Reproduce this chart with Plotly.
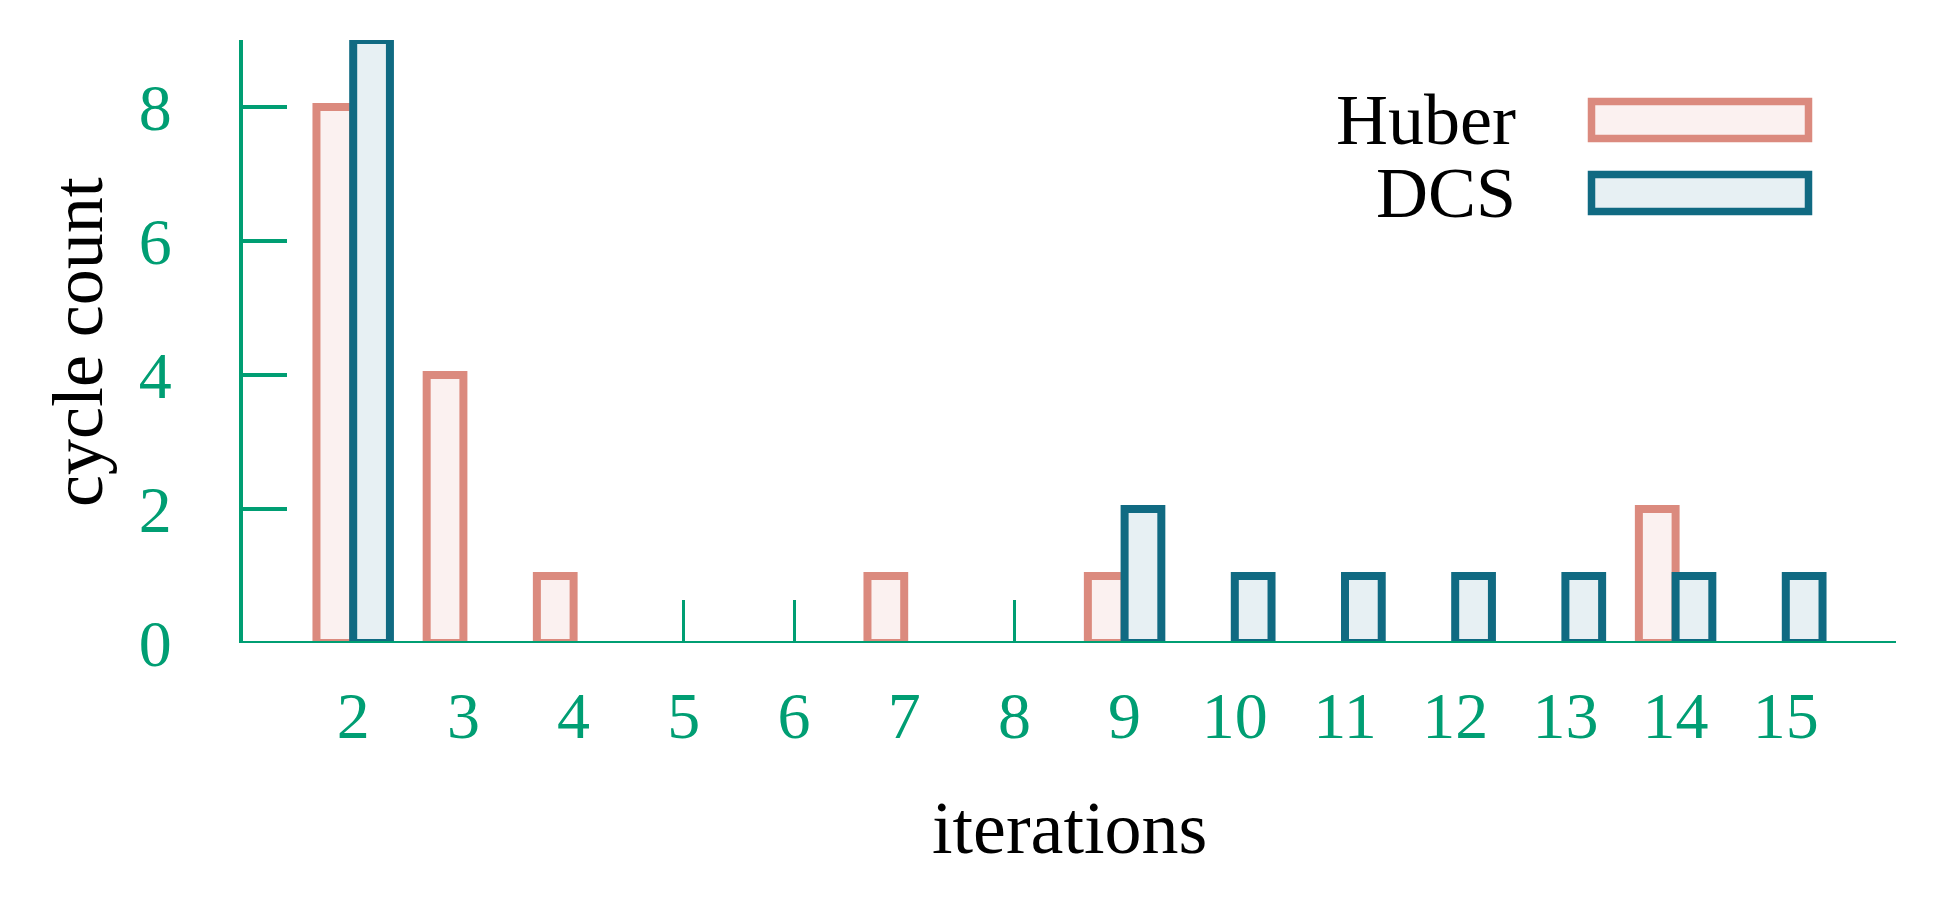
import plotly.graph_objects as go

# data
iterations = list(range(2, 16))
huber = [8, 4, 1, 0, 0, 1, 0, 1, 0, 0, 0, 0, 2, 0]
dcs = [9, 0, 0, 0, 0, 0, 0, 2, 1, 1, 1, 1, 1, 1]
y_ticks = [0, 2, 4, 6, 8]

series = [
    ("Huber", huber, "#DB8A7E", "#FBF1F0"),
    ("DCS", dcs, "#106A82", "#E7F0F3"),
]

GREEN = "#009E73"
FONT = "Liberation Serif"

# plot area in pixels (1942 x 901 page)
W, H = 1942, 901
L, R, T, B = 243, 1896, 40, 643


def px_x(px):
    return (px - L) / (R - L)


def px_y(py):
    return (B - py) / (B - T)


fig = go.Figure()

for name, vals, edge, fill in series:
    fig.add_trace(go.Bar(
        x=iterations,
        y=[v if v else None for v in vals],
        name=name,
        marker=dict(color=fill, line=dict(color=edge, width=8)),
        cliponaxis=False,
        showlegend=False,
    ))

# hand made legend: text on the left, swatch on the right
shapes = []
annotations = []
for i, (name, vals, edge, fill) in enumerate(series):
    top = 101.5 + i * 73
    shapes.append(dict(
        type="rect", xref="paper", yref="paper",
        x0=px_x(1591.5), x1=px_x(1808.5), y0=px_y(top), y1=px_y(top + 37),
        line=dict(color=edge, width=7.5), fillcolor=fill, layer="above",
    ))
    annotations.append(dict(
        text=name, xref="paper", yref="paper",
        x=px_x(1518), y=px_y(top + 18), xanchor="right", yanchor="middle",
        showarrow=False, font=dict(family=FONT, size=72, color="black"),
    ))

# bottom axis line drawn over the bar outlines
shapes.append(dict(
    type="line", xref="x domain", yref="y", x0=0, x1=1, y0=0, y1=0,
    line=dict(color=GREEN, width=4), layer="above",
))

# axis titles
annotations.append(dict(
    text="iterations", xref="paper", yref="paper",
    x=0.5, y=px_y(828), xanchor="center", yanchor="middle",
    showarrow=False, font=dict(family=FONT, size=74, color="black"),
))
annotations.append(dict(
    text="cycle count", xref="paper", yref="paper", textangle=-90,
    x=px_x(78), y=px_y(342), xanchor="center", yanchor="middle",
    showarrow=False, font=dict(family=FONT, size=72, color="black"),
))

fig.update_layout(
    width=W, height=H,
    margin=dict(l=L, r=W - R, t=T, b=H - B),
    paper_bgcolor="white", plot_bgcolor="white",
    barmode="group", bargap=1 / 3, bargroupgap=0,
    shapes=shapes, annotations=annotations,
)

fig.update_xaxes(
    range=[1, 16], tickvals=iterations,
    showline=False, showgrid=False, zeroline=False,
    ticks="inside", ticklen=43, tickwidth=3, tickcolor=GREEN,
    tickfont=dict(family=FONT, size=66, color=GREEN),
    ticklabelstandoff=28, layer="below traces",
)
fig.update_yaxes(
    range=[0, 9], tickvals=y_ticks,
    showline=True, linecolor=GREEN, linewidth=4,
    showgrid=False, zeroline=False,
    ticks="inside", ticklen=44, tickwidth=4, tickcolor=GREEN,
    tickfont=dict(family=FONT, size=66, color=GREEN),
    ticklabelstandoff=54, layer="below traces",
)

# page body has a default 8px margin, drop it so the figure sits at 0,0
fig.write_html(
    "out.html",
    config={"displayModeBar": False},
    post_script="document.body.style.margin = '0';",
)
